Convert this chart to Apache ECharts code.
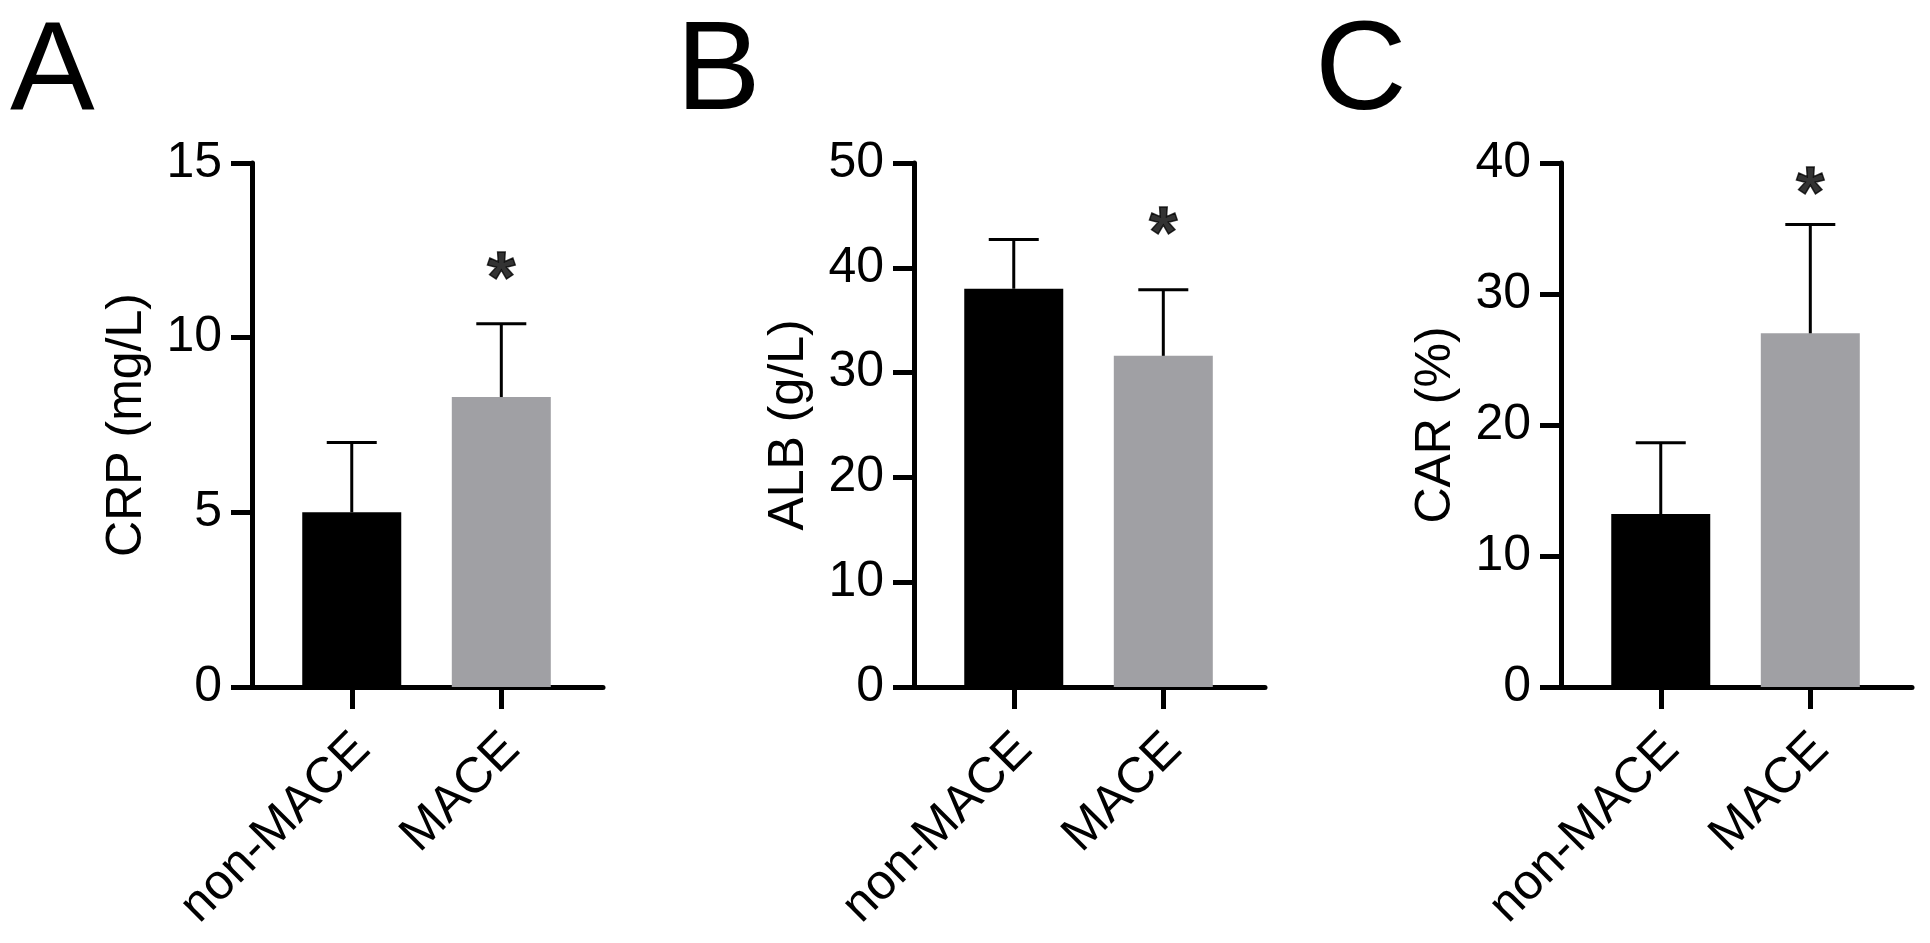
<!DOCTYPE html>
<html>
<head>
<meta charset="utf-8">
<script src="https://cdn.jsdelivr.net/npm/echarts@6/dist/echarts.min.js"></script>
<style>
html,body{margin:0;padding:0;background:#fff;}
#c{width:1930px;height:943px;}
</style>
</head>
<body>
<div id="c"></div>
<script>
// ---- data ----
const CATEGORIES = ['non-MACE', 'MACE'];
const PANELS = ['A', 'B', 'C'];
const Y_NAMES = ['CRP (mg/L)', 'ALB (g/L)', 'CAR (%)'];
const Y_MAX = [15, 50, 40];
const Y_STEP = [5, 10, 10];
const CRP_MEAN = [5.0, 8.3];
const CRP_SD = [2.0, 2.1];
const ALB_MEAN = [38.0, 31.6];
const ALB_SD = [4.7, 6.3];
const CAR_MEAN = [13.2, 27.0];
const CAR_SD = [5.45, 8.3];
const SIG_Y = [12.0, 44.3, 38.5];   // height of the "*" marker over MACE
const SIG_TEXT = '*';

const MEANS = [CRP_MEAN, ALB_MEAN, CAR_MEAN];
const SDS = [CRP_SD, ALB_SD, CAR_SD];

// ---- style ----
const FONT = 'Liberation Sans, Arial, Helvetica, sans-serif';
const BAR_COLORS = ['#000000', '#a0a0a4'];
const GRID_LEFT = [252, 914, 1561];
const TITLE_LEFT = [5, 671, 1310];

const chart = echarts.init(document.getElementById('c'), null, {renderer: 'canvas'});

const grids = [], xAxes = [], yAxes = [], series = [], titles = [];

PANELS.forEach((p, i) => {
  titles.push({
    text: p, left: TITLE_LEFT[i], top: 5,
    textStyle: {fontSize: 127, fontWeight: 'normal', color: '#000', fontFamily: FONT}
  });
  grids.push({left: GRID_LEFT[i], top: 163, width: 351, height: 524, outerBoundsMode: 'none', containLabel: false});
  xAxes.push({
    gridIndex: i, type: 'value', min: -0.667, max: 1.68,
    splitLine: {show: false},
    axisLine: {show: true, onZero: false, lineStyle: {color: '#000', width: 5}},
    axisTick: {show: true, customValues: [0, 1], length: 22, lineStyle: {color: '#000', width: 5}},
    axisLabel: {
      show: true, customValues: [0, 1], rotate: 45, margin: 44,
      verticalAlign: 'top', lineHeight: 30,
      fontSize: 50, color: '#000', fontFamily: FONT,
      formatter: v => CATEGORIES[Math.round(v)]
    }
  });
  yAxes.push({
    gridIndex: i, type: 'value', min: 0, max: Y_MAX[i], interval: Y_STEP[i],
    splitLine: {show: false},
    axisLine: {show: true, onZero: false, lineStyle: {color: '#000', width: 5}},
    axisTick: {show: true, length: 21, lineStyle: {color: '#000', width: 5}},
    axisLabel: {margin: 30, fontSize: 50, color: '#000', fontFamily: FONT},
    name: Y_NAMES[i], nameLocation: 'middle', nameGap: 100,
    nameTextStyle: {fontSize: 50, color: '#000', fontFamily: FONT}
  });
  series.push({
    type: 'bar', xAxisIndex: i, yAxisIndex: i, barWidth: 99, z: 2,
    data: MEANS[i].map((m, k) => ({value: [k, m], itemStyle: {color: BAR_COLORS[k]}}))
  });
  series.push({
    type: 'custom', xAxisIndex: i, yAxisIndex: i, z: 3,
    data: MEANS[i].map((m, k) => [k, m, m + SDS[i][k]]),
    renderItem: (params, api) => {
      const x = api.value(0), lo = api.value(1), hi = api.value(2);
      const p0 = api.coord([x, lo]);
      const p1 = api.coord([x, hi]);
      const hw = 25;
      return {
        type: 'group',
        children: [
          {type: 'line', shape: {x1: p0[0], y1: p0[1], x2: p1[0], y2: p1[1]}, style: {stroke: '#000', lineWidth: 3}},
          {type: 'line', shape: {x1: p1[0] - hw, y1: p1[1], x2: p1[0] + hw, y2: p1[1]}, style: {stroke: '#000', lineWidth: 3}}
        ]
      };
    }
  });
  series.push({
    type: 'scatter', xAxisIndex: i, yAxisIndex: i, z: 4,
    symbolSize: 1, itemStyle: {color: 'rgba(0,0,0,0)'},
    data: [[1, SIG_Y[i]]],
    label: {
      show: true, position: 'inside', formatter: SIG_TEXT,
      fontSize: 72, fontWeight: 'bold', color: '#000', fontFamily: FONT,
      textBorderColor: '#000', textBorderWidth: 1.5,
      offset: [0, 14]
    },
    emphasis: {disabled: true}, silent: true
  });
});

chart.setOption({
  animation: false,
  backgroundColor: '#ffffff',
  title: titles,
  grid: grids,
  xAxis: xAxes,
  yAxis: yAxes,
  series: series
});
</script>
</body>
</html>
